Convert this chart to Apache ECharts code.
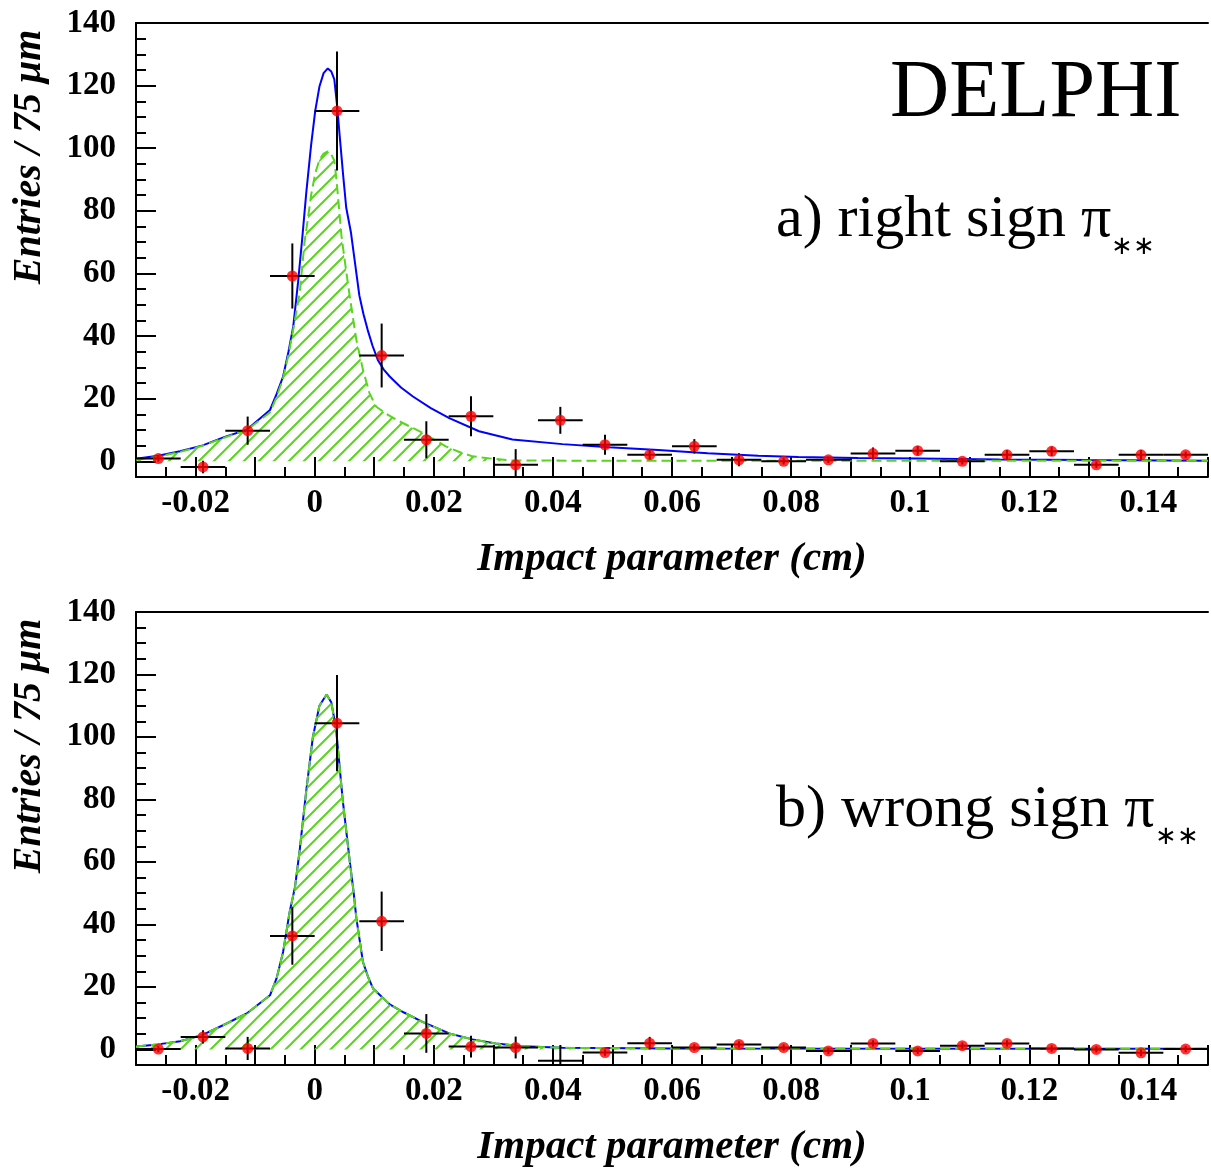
<!DOCTYPE html>
<html>
<head>
<meta charset="utf-8">
<title>DELPHI impact parameter</title>
<script src="https://cdn.jsdelivr.net/npm/echarts@6.0.0/dist/echarts.min.js"></script>
<style>
  html, body { margin: 0; padding: 0; background: #fff; }
  #main { width: 1211px; height: 1169px; }
</style>
</head>
<body>
<div id="main"></div>
<script>
// bins are 75 um wide, from -0.03 cm
const binWidth = 0.0075;
const binCenters = [-0.02625, -0.01875, -0.01125, -0.00375, 0.00375, 0.01125, 0.01875, 0.02625,
  0.03375, 0.04125, 0.04875, 0.05625, 0.06375, 0.07125, 0.07875, 0.08625,
  0.09375, 0.10125, 0.10875, 0.11625, 0.12375, 0.13125, 0.13875, 0.14625];

// a) right sign
const rightCounts = [0.9, -1.8, 9.8, 59.2, 111.9, 33.8, 6.9, 14.4, -1.1, 13.1, 5.3, 2.1,
  4.8, 0.5, 0, 0.5, 2.5, 3.4, 0, 2.1, 3.2, -1.1, 2.1, 2.1];
const rightErrors = [1, 2, 4.5, 10.4, 19, 10.2, 5.9, 6.4, 5, 4.3, 3.2, 1.5,
  2.3, 2.1, 1, 1, 1.9, 1.5, 1, 1.5, 1.5, 1, 1.5, 1];

// b) wrong sign
const wrongCounts = [0.1, 4.0, 0.3, 36.3, 104.4, 41, 5.1, 0.9, 0.6, -3.6, -1, 2,
  0.6, 1.6, 0.6, -0.5, 1.9, -0.5, 1.2, 1.9, 0.3, 0, -1.1, 0.1];
const wrongErrors = [1, 2.1, 3.7, 9.2, 15.4, 9.5, 6.2, 3.5, 3.5, 5, 1, 2,
  1, 1, 1, 1, 1, 1, 1, 1, 1, 1, 1, 1];
const wrongNoMarker = [9]; // bin drawn with error bars only

// fitted curves, [impact parameter, entries]
const rightFit = [[-0.03, 0.8], [-0.0263, 1.8], [-0.0226, 3.2], [-0.0188, 5.1], [-0.0151, 7.8],
  [-0.0114, 10.1], [-0.0075, 16.4], [-0.0064, 21.5], [-0.0053, 27.1], [-0.0044, 35],
  [-0.0036, 43], [-0.0028, 57], [-0.0021, 71], [-0.0014, 86], [-0.0006, 101],
  [0.0001, 112], [0.0008, 119.7], [0.0015, 124], [0.0022, 125.5], [0.0028, 124.5],
  [0.0033, 122], [0.0038, 113], [0.0042, 104], [0.0048, 91], [0.0053, 81],
  [0.0061, 73], [0.0068, 63], [0.0075, 53], [0.0082, 47], [0.0089, 42], [0.0097, 37],
  [0.0106, 32.4], [0.0116, 29.3], [0.0126, 27.1], [0.0145, 23.6], [0.0165, 20.7],
  [0.0195, 17], [0.0226, 13.8], [0.0276, 9.6], [0.0332, 7], [0.0416, 5.5], [0.0494, 4.5],
  [0.0577, 3.6], [0.066, 2.6], [0.0745, 1.8], [0.0812, 1.4], [0.0912, 1.1], [0.1013, 0.9],
  [0.115, 0.6], [0.13, 0.4], [0.15, 0.2]];
const rightSignal = [[-0.03, 0.5], [-0.0263, 1.5], [-0.0226, 3], [-0.0188, 5], [-0.0151, 7.6],
  [-0.0114, 10], [-0.0075, 15.6], [-0.0064, 20.5], [-0.0053, 26.5], [-0.0044, 34],
  [-0.0036, 42], [-0.0025, 54], [-0.0017, 70], [-0.0011, 78], [-0.0006, 85], [0.0001, 92],
  [0.0008, 96.3], [0.0015, 98.3], [0.0022, 99], [0.0028, 98], [0.0033, 96], [0.0036, 91],
  [0.0039, 85], [0.0045, 72], [0.0052, 62], [0.0059, 52.6], [0.0065, 45], [0.007, 38.8],
  [0.0081, 29.3], [0.0092, 21.8], [0.0103, 17.5], [0.012, 15.2], [0.0137, 13.3],
  [0.0159, 11.2], [0.0181, 9.1], [0.02, 7], [0.022, 4.8], [0.0243, 3], [0.0265, 1.6],
  [0.03, 0.8], [0.0332, 0.3], [0.045, 0.2], [0.15, 0.2]];
// in b) the signal curve lies on top of the total fit
const wrongFit = [[-0.03, 0.9], [-0.0263, 1.6], [-0.0226, 2.6], [-0.019, 4.5], [-0.0153, 7.8],
  [-0.0114, 11.5], [-0.0075, 17.3], [-0.0064, 22.7], [-0.0053, 31.2], [-0.0042, 44],
  [-0.0033, 52], [-0.0025, 64], [-0.0014, 83], [-0.0003, 100], [0.0008, 110],
  [0.002, 113.6], [0.0028, 111], [0.0036, 102.5], [0.0047, 80], [0.0059, 60],
  [0.0065, 51], [0.007, 42], [0.0081, 28], [0.009, 23], [0.0098, 19.5], [0.0126, 14.4],
  [0.015, 11.8], [0.0181, 8.8], [0.0226, 5.1], [0.0265, 3.2], [0.0304, 1.9], [0.035, 1],
  [0.0416, 0.5], [0.06, 0.3], [0.15, 0.2]];

const yLabelValues = [0, 20, 40, 60, 80, 100, 120, 140];
const yMin = -5, yMax = 140;

const GREEN = '#5ad51f';
const FONT = 'Liberation Serif';

function hatchCanvas() {
  const s = 15;
  const c = document.createElement('canvas');
  c.width = s;
  c.height = s;
  const ctx = c.getContext('2d');
  ctx.strokeStyle = GREEN;
  ctx.lineWidth = 2;
  ctx.beginPath();
  ctx.moveTo(0, s); ctx.lineTo(s, 0);
  ctx.moveTo(-s / 2, s / 2); ctx.lineTo(s / 2, -s / 2);
  ctx.moveTo(s / 2, s * 1.5); ctx.lineTo(s * 1.5, s / 2);
  ctx.stroke();
  return c;
}
const hatch = hatchCanvas();

function renderErrorBar(params, api) {
  const x = api.value(0), y = api.value(1), e = api.value(2);
  const l = api.coord([x - binWidth / 2, y]);
  const r = api.coord([x + binWidth / 2, y]);
  const t = api.coord([x, y + e]);
  const b = api.coord([x, y - e]);
  const style = { stroke: '#000', lineWidth: 2 };
  return {
    type: 'group',
    children: [
      { type: 'line', shape: { x1: l[0], y1: l[1], x2: r[0], y2: r[1] }, style: style },
      { type: 'line', shape: { x1: t[0], y1: t[1], x2: b[0], y2: b[1] }, style: style }
    ]
  };
}

function xLabel(v) {
  const k = Math.round(v * 100);
  if (k % 2 !== 0) return '';
  return String(Math.round(v * 1000) / 1000);
}

function xAxes(g) {
  return [{
    type: 'value', gridIndex: g, min: -0.03, max: 0.15, interval: 0.01,
    axisLine: { onZero: false, lineStyle: { color: '#000', width: 2 } },
    axisTick: { inside: true, length: 20, lineStyle: { color: '#000', width: 2 } },
    minorTick: { show: true, splitNumber: 2, length: 10, lineStyle: { color: '#000', width: 2 } },
    splitLine: { show: false },
    axisLabel: { formatter: xLabel, margin: 10, color: '#000', fontFamily: FONT, fontWeight: 'bold', fontSize: 33 },
    name: 'Impact parameter (cm)', nameLocation: 'middle', nameGap: 62,
    nameTextStyle: { color: '#000', fontFamily: FONT, fontWeight: 'bold', fontStyle: 'italic', fontSize: 41 }
  }, {
    type: 'value', gridIndex: g, position: 'top', min: -0.03, max: 0.15,
    axisLine: { onZero: false, lineStyle: { color: '#000', width: 2 } },
    axisTick: { show: false }, axisLabel: { show: false }, splitLine: { show: false }
  }];
}

function yAxes(g) {
  return [{
    // data axis: minor ticks every 5, labels every 20
    type: 'value', gridIndex: g, min: yMin, max: yMax, interval: 5,
    axisLine: { show: true, onZero: false, lineStyle: { color: '#000', width: 2 } },
    axisTick: { inside: true, length: 10, lineStyle: { color: '#000', width: 2 } },
    splitLine: { show: false },
    axisLabel: {
      formatter: v => (yLabelValues.indexOf(v) >= 0 ? String(v) : ''),
      margin: 20, color: '#000', fontFamily: FONT, fontWeight: 'bold', fontSize: 33
    }
  }, {
    // tick-only axis counted down from the top, so its ticks land on 140, 120, ... 0
    type: 'value', gridIndex: g, position: 'left', inverse: true,
    min: 0, max: yMax - yMin, interval: 20,
    axisLine: { show: false, onZero: false },
    axisTick: { show: true, inside: true, length: 20, lineStyle: { color: '#000', width: 2 } },
    axisLabel: { show: false }, splitLine: { show: false }
  }];
}

function panelSeries(g, counts, errors, fit, signal, noMarker) {
  const ax = { xAxisIndex: 2 * g, yAxisIndex: 2 * g };
  const points = binCenters.map((x, k) => {
    const item = { value: [x, counts[k]] };
    if (noMarker.indexOf(k) >= 0) item.symbolSize = 0;
    return item;
  });
  return [
    Object.assign({
      type: 'line', data: fit, showSymbol: false, z: 2,
      lineStyle: { color: '#0000ff', width: 2 }
    }, ax),
    Object.assign({
      type: 'line', data: signal, showSymbol: false, z: 3,
      lineStyle: { color: GREEN, width: 2, type: [10, 5] },
      areaStyle: { color: { image: hatch, repeat: 'repeat' }, opacity: 1, origin: 'auto' }
    }, ax),
    Object.assign({
      type: 'custom', renderItem: renderErrorBar, clip: true, z: 4,
      encode: { x: 0, y: 1 },
      data: binCenters.map((x, k) => [x, counts[k], errors[k]])
    }, ax),
    Object.assign({
      type: 'scatter', data: points, symbol: 'circle', symbolSize: 11, z: 5,
      itemStyle: { color: '#ff0000' }
    }, ax)
  ];
}

function yName(y) {
  return {
    type: 'text', x: 30, y: y, rotation: Math.PI / 2,
    style: {
      text: 'Entries / 75 μm', fill: '#000', fontFamily: FONT, fontWeight: 'bold',
      fontStyle: 'italic', fontSize: 40, align: 'center', verticalAlign: 'middle'
    }
  };
}

function panelTag(text, y) {
  return {
    type: 'text', x: 776, y: y,
    style: {
      text: '{m|' + text + '}{s|∗∗}', fill: '#000', align: 'left', verticalAlign: 'bottom',
      rich: {
        m: { fontFamily: FONT, fontSize: 60, lineHeight: 60, padding: [0, 0, 10, 0], verticalAlign: 'bottom' },
        s: { fontFamily: FONT, fontSize: 26, lineHeight: 26, verticalAlign: 'bottom' }
      }
    }
  };
}

const chart = echarts.init(document.getElementById('main'));
chart.setOption({
  animation: false,
  backgroundColor: '#fff',
  grid: [
    { left: 136, top: 23, width: 1075, height: 454 },
    { left: 136, top: 612, width: 1075, height: 454 }
  ],
  xAxis: xAxes(0).concat(xAxes(1)),
  yAxis: yAxes(0).concat(yAxes(1)),
  series: panelSeries(0, rightCounts, rightErrors, rightFit, rightSignal, [])
    .concat(panelSeries(1, wrongCounts, wrongErrors, wrongFit, wrongFit, wrongNoMarker)),
  graphic: [
    yName(157),
    yName(746),
    {
      type: 'text', x: 890, y: 94,
      style: { text: 'DELPHI', fill: '#000', fontFamily: FONT, fontSize: 82, align: 'left', verticalAlign: 'middle' }
    },
    panelTag('a) right sign π', 260),
    panelTag('b) wrong sign π', 850)
  ]
});
</script>
</body>
</html>
